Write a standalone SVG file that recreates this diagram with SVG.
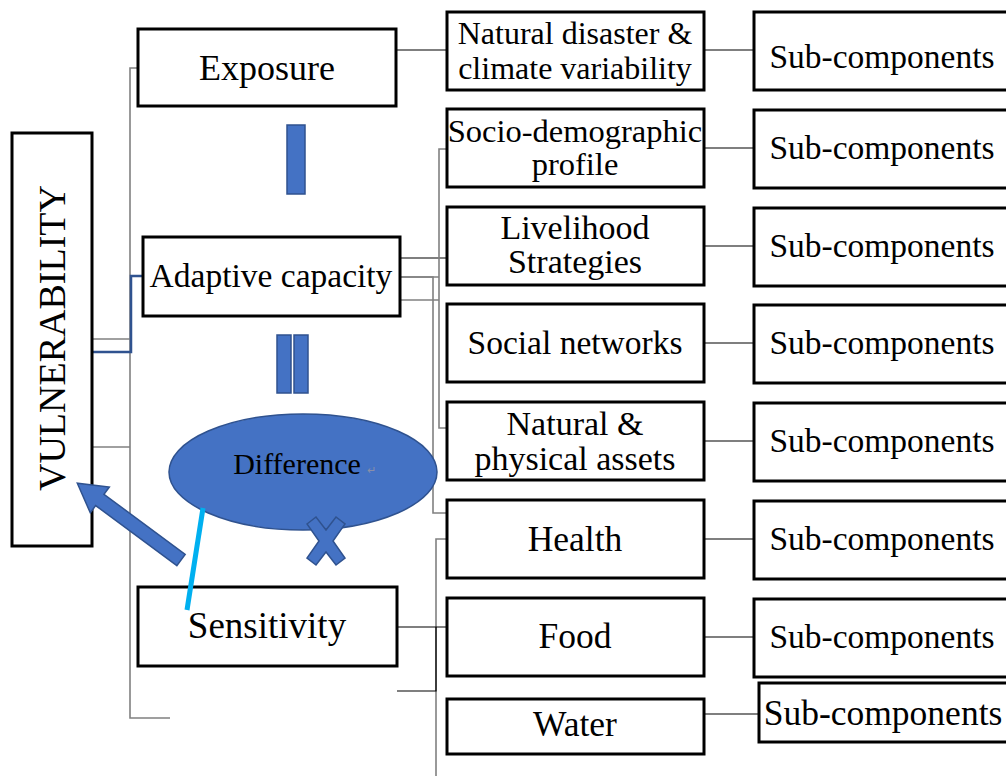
<svg xmlns="http://www.w3.org/2000/svg" width="1006" height="776" viewBox="0 0 1006 776">
<style>
.box{fill:#fff;stroke:#000;stroke-width:3}
.t{font-family:"Liberation Serif","Times New Roman",serif;fill:#000;text-anchor:middle}
.s{font-size:33.5px}
.m{font-size:32px}
.b{font-size:35.5px}
.g{fill:none;stroke:#808080;stroke-width:1.6}
.k{fill:none;stroke:#000;stroke-width:1.2}
.sh{fill:#4472C4;stroke:#2F528F;stroke-width:1.5}
</style>
<rect width="1006" height="776" fill="#fff"/>
<g id="connectors">
<polyline class="g" points="138,68 130,68 130,718 170,718"/>
<line class="g" x1="92" y1="339" x2="130" y2="339"/>
<line class="g" x1="92" y1="447" x2="130" y2="447"/>
<polyline points="92,352 131,352 131,276 143,276" fill="none" stroke="#2F528F" stroke-width="2.5"/>
<line class="k" x1="396" y1="50" x2="447" y2="50"/>
<line class="k" x1="400" y1="258" x2="447" y2="258"/>
<line class="g" x1="400" y1="277" x2="439" y2="277"/>
<line class="g" x1="400" y1="300" x2="439" y2="300"/>
<polyline class="g" points="447,149 439,149 439,428 447,428"/>
<polyline class="g" points="400,277 433,277 433,513 447,513"/>
<polyline class="g" points="447,539 436,539 436,776"/>
<line class="k" x1="397" y1="627" x2="447" y2="627"/>
<polyline class="k" points="397,691 436,691 436,627"/>
<line class="k" x1="704" y1="50" x2="754" y2="50"/>
<line class="k" x1="704" y1="148" x2="754" y2="148"/>
<line class="k" x1="704" y1="246" x2="754" y2="246"/>
<line class="k" x1="704" y1="343" x2="754" y2="343"/>
<line class="k" x1="704" y1="441" x2="754" y2="441"/>
<line class="k" x1="704" y1="539" x2="754" y2="539"/>
<line class="k" x1="704" y1="637" x2="754" y2="637"/>
<line class="k" x1="704" y1="714" x2="759" y2="714"/>
</g>
<g id="vulnerability">
<rect class="box" x="12" y="133" width="80" height="413"/>
<text class="t" transform="translate(52,338) rotate(-90)" y="13" font-size="38">VULNERABILITY</text>
</g>
<g id="exposure">
<rect class="box" x="138" y="29" width="258" height="77"/>
<text class="t" font-size="36" x="267" y="80">Exposure</text>
</g>
<g id="adaptive">
<rect class="box" x="143" y="237" width="257" height="79"/>
<text class="t s" x="271" y="287">Adaptive capacity</text>
</g>
<g id="sensitivity">
<rect class="box" x="138" y="587" width="259" height="79"/>
<text class="t" font-size="37" x="267" y="638">Sensitivity</text>
</g>
<g id="bar1"><rect class="sh" x="287" y="125" width="18" height="69"/></g>
<g id="bar2"><rect class="sh" x="277" y="335" width="14" height="58"/><rect class="sh" x="294" y="335" width="14" height="58"/></g>
<g id="difference">
<ellipse class="sh" cx="303" cy="472" rx="134" ry="58"/>
<text class="t" x="297" y="474" font-size="30">Difference</text>
<text x="367" y="474" font-family="Liberation Sans,sans-serif" font-size="11" fill="#8a8fa8">↵</text>
</g>
<g id="cross">
<polygon class="sh" points="307,524 316,517 326,530 336,517 345,524 333,541 345,558 336,565 326,552 316,565 307,558 319,541"/>
</g>
<g id="arrow">
<polygon class="sh" transform="translate(181,560) rotate(216.5)" points="0,-7 101,-7 101,-16 129,0 101,16 101,7 0,7"/>
</g>
<line x1="203" y1="508" x2="187" y2="610" stroke="#00B0F0" stroke-width="5"/>
<g id="m1"><rect class="box" x="447" y="12" width="257" height="78"/>
<text class="t m" x="575" y="44">Natural disaster &amp;</text><text class="t m" x="575" y="79">climate variability</text></g>
<g id="m2"><rect class="box" x="447" y="109" width="257" height="78"/>
<text class="t" font-size="32.5" x="575" y="142">Socio-demographic</text><text class="t" font-size="32.5" x="575" y="175">profile</text></g>
<g id="m3"><rect class="box" x="447" y="207" width="257" height="78"/>
<text class="t" font-size="34" x="575" y="239">Livelihood</text><text class="t" font-size="34" x="575" y="273">Strategies</text></g>
<g id="m4"><rect class="box" x="447" y="304" width="257" height="78"/>
<text class="t s" x="575" y="354">Social networks</text></g>
<g id="m5"><rect class="box" x="447" y="402" width="257" height="78"/>
<text class="t" font-size="34" x="575" y="435">Natural &amp;</text><text class="t" font-size="34" x="575" y="470">physical assets</text></g>
<g id="m6"><rect class="box" x="447" y="500" width="257" height="78"/>
<text class="t b" x="575" y="551">Health</text></g>
<g id="m7"><rect class="box" x="447" y="598" width="257" height="78"/>
<text class="t b" x="575" y="648">Food</text></g>
<g id="m8"><rect class="box" x="447" y="699" width="257" height="55"/>
<text class="t b" x="575" y="736">Water</text></g>
<g id="s1"><rect class="box" x="754" y="12" width="260" height="78"/><text class="t s" x="882" y="68">Sub-components</text></g>
<g id="s2"><rect class="box" x="754" y="110" width="260" height="78"/><text class="t s" x="882" y="159">Sub-components</text></g>
<g id="s3"><rect class="box" x="754" y="208" width="260" height="78"/><text class="t s" x="882" y="257">Sub-components</text></g>
<g id="s4"><rect class="box" x="754" y="305" width="260" height="78"/><text class="t s" x="882" y="354">Sub-components</text></g>
<g id="s5"><rect class="box" x="754" y="403" width="260" height="78"/><text class="t s" x="882" y="452">Sub-components</text></g>
<g id="s6"><rect class="box" x="754" y="501" width="260" height="78"/><text class="t s" x="882" y="550">Sub-components</text></g>
<g id="s7"><rect class="box" x="754" y="599" width="260" height="78"/><text class="t s" x="882" y="648">Sub-components</text></g>
<g id="s8"><rect class="box" x="759" y="683" width="260" height="59"/><text class="t" font-size="35.5" x="883" y="725">Sub-components</text></g>
</svg>
